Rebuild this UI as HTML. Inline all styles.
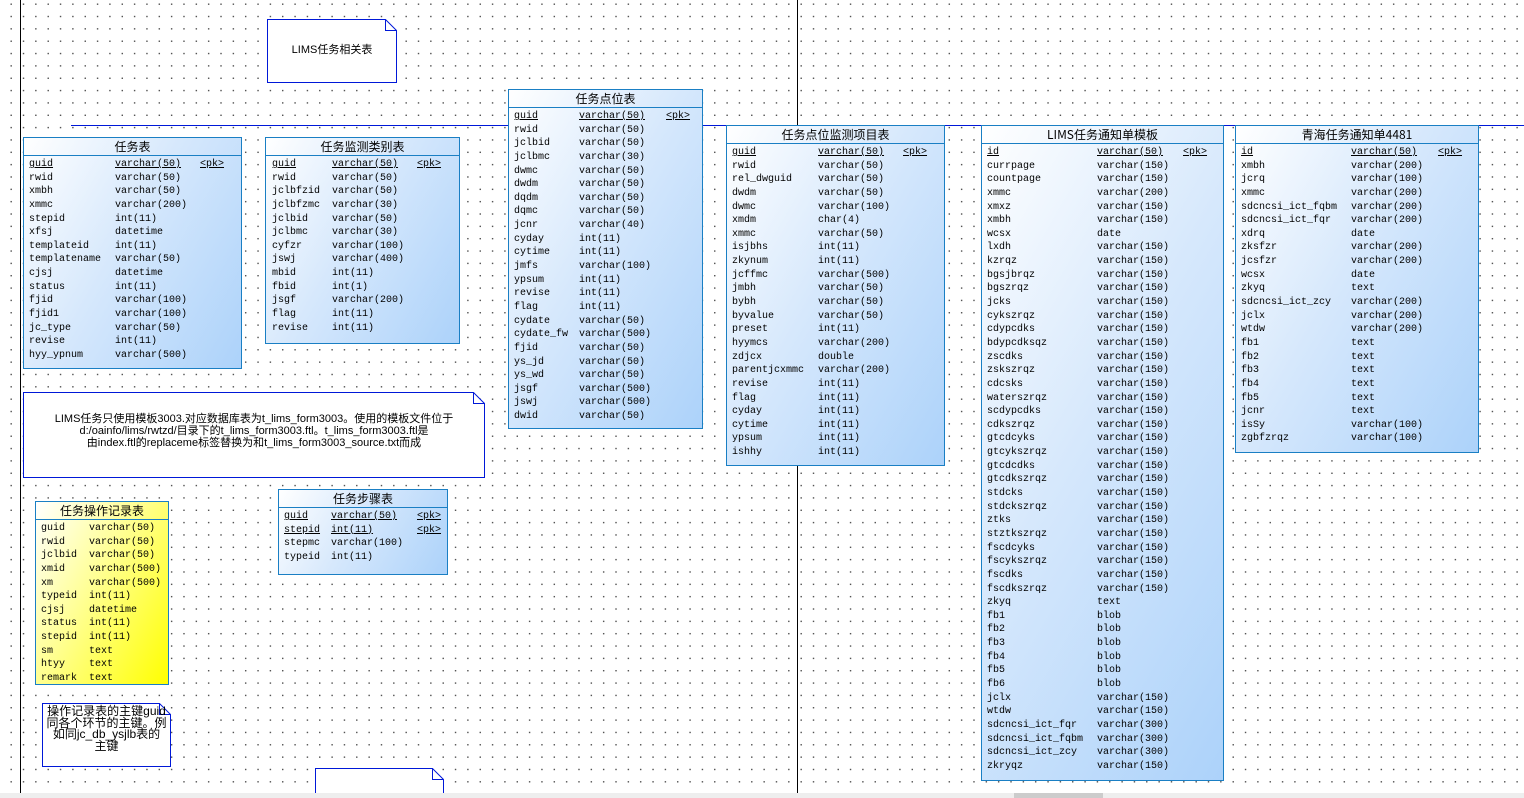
<!DOCTYPE html>
<html><head><meta charset="utf-8"><style>
*{margin:0;padding:0;box-sizing:border-box}
html,body{overflow:hidden}
body{width:1524px;height:798px;position:relative;background:#fff;
background-image:radial-gradient(circle,#444 0.6px,transparent 0.9px);background-size:12.35px 12.35px;background-position:5px -2px;
font-family:"Liberation Mono","Noto Sans CJK SC",monospace;font-size:10px;color:#000}
.vl{position:absolute;top:0;width:1px;height:793px;background:#000}
.hl{position:absolute;left:71px;top:125px;width:1453px;height:1px;background:#0018d8}
.t{position:absolute;border:1px solid #1a7fc4;background:linear-gradient(120deg,#fff 0%,#d6e8fc 45%,#acd2fa 100%)}
.t.y{background:linear-gradient(120deg,#fff 0%,#ffff90 45%,#ffff00 100%)}
.h{height:18px;border-bottom:1px solid #1a7fc4;text-align:center;font-family:"Noto Sans CJK SC","Liberation Sans",sans-serif;font-size:12px;line-height:17px}
.b{padding-top:2px}
.r{height:13.65px;line-height:13.65px;white-space:nowrap}
.r span{display:inline-block}
.u{text-decoration:underline}
.n{position:absolute;font-family:"Liberation Sans","Noto Sans CJK SC",sans-serif;font-size:11px;text-align:center}
.n svg{position:absolute;left:0;top:0;overflow:visible}
.n .tx{position:relative}
.sb{position:absolute;left:0;top:793px;width:1524px;height:10px;background:#eee;z-index:10}
.th{position:absolute;left:1014px;top:793px;width:89px;height:10px;background:#ccc;z-index:11}
</style></head><body>
<div class="vl" style="left:20px"></div>
<div class="vl" style="left:797px"></div>
<div class="hl"></div>

<div class="n" style="left:267px;top:19px;width:130px;height:64px">
<svg width="130" height="64"><polygon points="0.5,0.5 118.5,0.5 129.5,11.5 129.5,63.5 0.5,63.5" fill="#fff" stroke="#0018d8"/><polyline points="118.5,0.5 118.5,11.5 129.5,11.5" fill="none" stroke="#0018d8"/></svg>
<div class="tx" style="line-height:62px">LIMS任务相关表</div></div>

<div class="t" style="left:23px;top:137px;width:219px;height:232px"><div class="h">任务表</div><div class="b" style="padding-left:5px">
<div class="r"><span class="u" style="width:86px">guid</span><span class="u" style="width:85px">varchar(50)</span><span class="u">&lt;pk&gt;</span></div>
<div class="r"><span style="width:86px">rwid</span><span>varchar(50)</span></div>
<div class="r"><span style="width:86px">xmbh</span><span>varchar(50)</span></div>
<div class="r"><span style="width:86px">xmmc</span><span>varchar(200)</span></div>
<div class="r"><span style="width:86px">stepid</span><span>int(11)</span></div>
<div class="r"><span style="width:86px">xfsj</span><span>datetime</span></div>
<div class="r"><span style="width:86px">templateid</span><span>int(11)</span></div>
<div class="r"><span style="width:86px">templatename</span><span>varchar(50)</span></div>
<div class="r"><span style="width:86px">cjsj</span><span>datetime</span></div>
<div class="r"><span style="width:86px">status</span><span>int(11)</span></div>
<div class="r"><span style="width:86px">fjid</span><span>varchar(100)</span></div>
<div class="r"><span style="width:86px">fjid1</span><span>varchar(100)</span></div>
<div class="r"><span style="width:86px">jc_type</span><span>varchar(50)</span></div>
<div class="r"><span style="width:86px">revise</span><span>int(11)</span></div>
<div class="r"><span style="width:86px">hyy_ypnum</span><span>varchar(500)</span></div>
</div></div>

<div class="t" style="left:265px;top:137px;width:195px;height:207px"><div class="h">任务监测类别表</div><div class="b" style="padding-left:6px">
<div class="r"><span class="u" style="width:60px">guid</span><span class="u" style="width:85px">varchar(50)</span><span class="u">&lt;pk&gt;</span></div>
<div class="r"><span style="width:60px">rwid</span><span>varchar(50)</span></div>
<div class="r"><span style="width:60px">jclbfzid</span><span>varchar(50)</span></div>
<div class="r"><span style="width:60px">jclbfzmc</span><span>varchar(30)</span></div>
<div class="r"><span style="width:60px">jclbid</span><span>varchar(50)</span></div>
<div class="r"><span style="width:60px">jclbmc</span><span>varchar(30)</span></div>
<div class="r"><span style="width:60px">cyfzr</span><span>varchar(100)</span></div>
<div class="r"><span style="width:60px">jswj</span><span>varchar(400)</span></div>
<div class="r"><span style="width:60px">mbid</span><span>int(11)</span></div>
<div class="r"><span style="width:60px">fbid</span><span>int(1)</span></div>
<div class="r"><span style="width:60px">jsgf</span><span>varchar(200)</span></div>
<div class="r"><span style="width:60px">flag</span><span>int(11)</span></div>
<div class="r"><span style="width:60px">revise</span><span>int(11)</span></div>
</div></div>

<div class="t" style="left:508px;top:89px;width:195px;height:340px"><div class="h">任务点位表</div><div class="b" style="padding-left:5px">
<div class="r"><span class="u" style="width:65px">guid</span><span class="u" style="width:87px">varchar(50)</span><span class="u">&lt;pk&gt;</span></div>
<div class="r"><span style="width:65px">rwid</span><span>varchar(50)</span></div>
<div class="r"><span style="width:65px">jclbid</span><span>varchar(50)</span></div>
<div class="r"><span style="width:65px">jclbmc</span><span>varchar(30)</span></div>
<div class="r"><span style="width:65px">dwmc</span><span>varchar(50)</span></div>
<div class="r"><span style="width:65px">dwdm</span><span>varchar(50)</span></div>
<div class="r"><span style="width:65px">dqdm</span><span>varchar(50)</span></div>
<div class="r"><span style="width:65px">dqmc</span><span>varchar(50)</span></div>
<div class="r"><span style="width:65px">jcnr</span><span>varchar(40)</span></div>
<div class="r"><span style="width:65px">cyday</span><span>int(11)</span></div>
<div class="r"><span style="width:65px">cytime</span><span>int(11)</span></div>
<div class="r"><span style="width:65px">jmfs</span><span>varchar(100)</span></div>
<div class="r"><span style="width:65px">ypsum</span><span>int(11)</span></div>
<div class="r"><span style="width:65px">revise</span><span>int(11)</span></div>
<div class="r"><span style="width:65px">flag</span><span>int(11)</span></div>
<div class="r"><span style="width:65px">cydate</span><span>varchar(50)</span></div>
<div class="r"><span style="width:65px">cydate_fw</span><span>varchar(500)</span></div>
<div class="r"><span style="width:65px">fjid</span><span>varchar(50)</span></div>
<div class="r"><span style="width:65px">ys_jd</span><span>varchar(50)</span></div>
<div class="r"><span style="width:65px">ys_wd</span><span>varchar(50)</span></div>
<div class="r"><span style="width:65px">jsgf</span><span>varchar(500)</span></div>
<div class="r"><span style="width:65px">jswj</span><span>varchar(500)</span></div>
<div class="r"><span style="width:65px">dwid</span><span>varchar(50)</span></div>
</div></div>

<div class="t" style="left:726px;top:125px;width:219px;height:341px"><div class="h">任务点位监测项目表</div><div class="b" style="padding-left:5px">
<div class="r"><span class="u" style="width:86px">guid</span><span class="u" style="width:85px">varchar(50)</span><span class="u">&lt;pk&gt;</span></div>
<div class="r"><span style="width:86px">rwid</span><span>varchar(50)</span></div>
<div class="r"><span style="width:86px">rel_dwguid</span><span>varchar(50)</span></div>
<div class="r"><span style="width:86px">dwdm</span><span>varchar(50)</span></div>
<div class="r"><span style="width:86px">dwmc</span><span>varchar(100)</span></div>
<div class="r"><span style="width:86px">xmdm</span><span>char(4)</span></div>
<div class="r"><span style="width:86px">xmmc</span><span>varchar(50)</span></div>
<div class="r"><span style="width:86px">isjbhs</span><span>int(11)</span></div>
<div class="r"><span style="width:86px">zkynum</span><span>int(11)</span></div>
<div class="r"><span style="width:86px">jcffmc</span><span>varchar(500)</span></div>
<div class="r"><span style="width:86px">jmbh</span><span>varchar(50)</span></div>
<div class="r"><span style="width:86px">bybh</span><span>varchar(50)</span></div>
<div class="r"><span style="width:86px">byvalue</span><span>varchar(50)</span></div>
<div class="r"><span style="width:86px">preset</span><span>int(11)</span></div>
<div class="r"><span style="width:86px">hyymcs</span><span>varchar(200)</span></div>
<div class="r"><span style="width:86px">zdjcx</span><span>double</span></div>
<div class="r"><span style="width:86px">parentjcxmmc</span><span>varchar(200)</span></div>
<div class="r"><span style="width:86px">revise</span><span>int(11)</span></div>
<div class="r"><span style="width:86px">flag</span><span>int(11)</span></div>
<div class="r"><span style="width:86px">cyday</span><span>int(11)</span></div>
<div class="r"><span style="width:86px">cytime</span><span>int(11)</span></div>
<div class="r"><span style="width:86px">ypsum</span><span>int(11)</span></div>
<div class="r"><span style="width:86px">ishhy</span><span>int(11)</span></div>
</div></div>

<div class="t" style="left:981px;top:125px;width:243px;height:656px"><div class="h">LIMS任务通知单模板</div><div class="b" style="padding-left:5px">
<div class="r"><span class="u" style="width:110px">id</span><span class="u" style="width:86px">varchar(50)</span><span class="u">&lt;pk&gt;</span></div>
<div class="r"><span style="width:110px">currpage</span><span>varchar(150)</span></div>
<div class="r"><span style="width:110px">countpage</span><span>varchar(150)</span></div>
<div class="r"><span style="width:110px">xmmc</span><span>varchar(200)</span></div>
<div class="r"><span style="width:110px">xmxz</span><span>varchar(150)</span></div>
<div class="r"><span style="width:110px">xmbh</span><span>varchar(150)</span></div>
<div class="r"><span style="width:110px">wcsx</span><span>date</span></div>
<div class="r"><span style="width:110px">lxdh</span><span>varchar(150)</span></div>
<div class="r"><span style="width:110px">kzrqz</span><span>varchar(150)</span></div>
<div class="r"><span style="width:110px">bgsjbrqz</span><span>varchar(150)</span></div>
<div class="r"><span style="width:110px">bgszrqz</span><span>varchar(150)</span></div>
<div class="r"><span style="width:110px">jcks</span><span>varchar(150)</span></div>
<div class="r"><span style="width:110px">cykszrqz</span><span>varchar(150)</span></div>
<div class="r"><span style="width:110px">cdypcdks</span><span>varchar(150)</span></div>
<div class="r"><span style="width:110px">bdypcdksqz</span><span>varchar(150)</span></div>
<div class="r"><span style="width:110px">zscdks</span><span>varchar(150)</span></div>
<div class="r"><span style="width:110px">zskszrqz</span><span>varchar(150)</span></div>
<div class="r"><span style="width:110px">cdcsks</span><span>varchar(150)</span></div>
<div class="r"><span style="width:110px">waterszrqz</span><span>varchar(150)</span></div>
<div class="r"><span style="width:110px">scdypcdks</span><span>varchar(150)</span></div>
<div class="r"><span style="width:110px">cdkszrqz</span><span>varchar(150)</span></div>
<div class="r"><span style="width:110px">gtcdcyks</span><span>varchar(150)</span></div>
<div class="r"><span style="width:110px">gtcykszrqz</span><span>varchar(150)</span></div>
<div class="r"><span style="width:110px">gtcdcdks</span><span>varchar(150)</span></div>
<div class="r"><span style="width:110px">gtcdkszrqz</span><span>varchar(150)</span></div>
<div class="r"><span style="width:110px">stdcks</span><span>varchar(150)</span></div>
<div class="r"><span style="width:110px">stdckszrqz</span><span>varchar(150)</span></div>
<div class="r"><span style="width:110px">ztks</span><span>varchar(150)</span></div>
<div class="r"><span style="width:110px">stztkszrqz</span><span>varchar(150)</span></div>
<div class="r"><span style="width:110px">fscdcyks</span><span>varchar(150)</span></div>
<div class="r"><span style="width:110px">fscykszrqz</span><span>varchar(150)</span></div>
<div class="r"><span style="width:110px">fscdks</span><span>varchar(150)</span></div>
<div class="r"><span style="width:110px">fscdkszrqz</span><span>varchar(150)</span></div>
<div class="r"><span style="width:110px">zkyq</span><span>text</span></div>
<div class="r"><span style="width:110px">fb1</span><span>blob</span></div>
<div class="r"><span style="width:110px">fb2</span><span>blob</span></div>
<div class="r"><span style="width:110px">fb3</span><span>blob</span></div>
<div class="r"><span style="width:110px">fb4</span><span>blob</span></div>
<div class="r"><span style="width:110px">fb5</span><span>blob</span></div>
<div class="r"><span style="width:110px">fb6</span><span>blob</span></div>
<div class="r"><span style="width:110px">jclx</span><span>varchar(150)</span></div>
<div class="r"><span style="width:110px">wtdw</span><span>varchar(150)</span></div>
<div class="r"><span style="width:110px">sdcncsi_ict_fqr</span><span>varchar(300)</span></div>
<div class="r"><span style="width:110px">sdcncsi_ict_fqbm</span><span>varchar(300)</span></div>
<div class="r"><span style="width:110px">sdcncsi_ict_zcy</span><span>varchar(300)</span></div>
<div class="r"><span style="width:110px">zkryqz</span><span>varchar(150)</span></div>
</div></div>

<div class="t" style="left:1235px;top:125px;width:244px;height:328px"><div class="h">青海任务通知单4481</div><div class="b" style="padding-left:5px">
<div class="r"><span class="u" style="width:110px">id</span><span class="u" style="width:87px">varchar(50)</span><span class="u">&lt;pk&gt;</span></div>
<div class="r"><span style="width:110px">xmbh</span><span>varchar(200)</span></div>
<div class="r"><span style="width:110px">jcrq</span><span>varchar(100)</span></div>
<div class="r"><span style="width:110px">xmmc</span><span>varchar(200)</span></div>
<div class="r"><span style="width:110px">sdcncsi_ict_fqbm</span><span>varchar(200)</span></div>
<div class="r"><span style="width:110px">sdcncsi_ict_fqr</span><span>varchar(200)</span></div>
<div class="r"><span style="width:110px">xdrq</span><span>date</span></div>
<div class="r"><span style="width:110px">zksfzr</span><span>varchar(200)</span></div>
<div class="r"><span style="width:110px">jcsfzr</span><span>varchar(200)</span></div>
<div class="r"><span style="width:110px">wcsx</span><span>date</span></div>
<div class="r"><span style="width:110px">zkyq</span><span>text</span></div>
<div class="r"><span style="width:110px">sdcncsi_ict_zcy</span><span>varchar(200)</span></div>
<div class="r"><span style="width:110px">jclx</span><span>varchar(200)</span></div>
<div class="r"><span style="width:110px">wtdw</span><span>varchar(200)</span></div>
<div class="r"><span style="width:110px">fb1</span><span>text</span></div>
<div class="r"><span style="width:110px">fb2</span><span>text</span></div>
<div class="r"><span style="width:110px">fb3</span><span>text</span></div>
<div class="r"><span style="width:110px">fb4</span><span>text</span></div>
<div class="r"><span style="width:110px">fb5</span><span>text</span></div>
<div class="r"><span style="width:110px">jcnr</span><span>text</span></div>
<div class="r"><span style="width:110px">isSy</span><span>varchar(100)</span></div>
<div class="r"><span style="width:110px">zgbfzrqz</span><span>varchar(100)</span></div>
</div></div>

<div class="n" style="left:23px;top:392px;width:462px;height:86px">
<svg width="462" height="86"><polygon points="0.5,0.5 450.5,0.5 461.5,11.5 461.5,85.5 0.5,85.5" fill="#fff" stroke="#0018d8"/><polyline points="450.5,0.5 450.5,11.5 461.5,11.5" fill="none" stroke="#0018d8"/></svg>
<div class="tx" style="padding-top:21px;line-height:12px">LIMS任务只使用模板3003.对应数据库表为t_lims_form3003。使用的模板文件位于<br>d:/oainfo/lims/rwtzd/目录下的t_lims_form3003.ftl。t_lims_form3003.ftl是<br>由index.ftl的replaceme标签替换为和t_lims_form3003_source.txt而成</div></div>

<div class="t y" style="left:35px;top:501px;width:134px;height:184px"><div class="h">任务操作记录表</div><div class="b" style="padding-left:5px">
<div class="r"><span style="width:48px">guid</span><span>varchar(50)</span></div>
<div class="r"><span style="width:48px">rwid</span><span>varchar(50)</span></div>
<div class="r"><span style="width:48px">jclbid</span><span>varchar(50)</span></div>
<div class="r"><span style="width:48px">xmid</span><span>varchar(500)</span></div>
<div class="r"><span style="width:48px">xm</span><span>varchar(500)</span></div>
<div class="r"><span style="width:48px">typeid</span><span>int(11)</span></div>
<div class="r"><span style="width:48px">cjsj</span><span>datetime</span></div>
<div class="r"><span style="width:48px">status</span><span>int(11)</span></div>
<div class="r"><span style="width:48px">stepid</span><span>int(11)</span></div>
<div class="r"><span style="width:48px">sm</span><span>text</span></div>
<div class="r"><span style="width:48px">htyy</span><span>text</span></div>
<div class="r"><span style="width:48px">remark</span><span>text</span></div>
</div></div>

<div class="t" style="left:278px;top:489px;width:170px;height:86px"><div class="h">任务步骤表</div><div class="b" style="padding-left:5px">
<div class="r"><span class="u" style="width:47px">guid</span><span class="u" style="width:86px">varchar(50)</span><span class="u">&lt;pk&gt;</span></div>
<div class="r"><span class="u" style="width:47px">stepid</span><span class="u" style="width:86px">int(11)</span><span class="u">&lt;pk&gt;</span></div>
<div class="r"><span style="width:47px">stepmc</span><span>varchar(100)</span></div>
<div class="r"><span style="width:47px">typeid</span><span>int(11)</span></div>
</div></div>

<div class="n" style="left:42px;top:703px;width:129px;height:64px">
<svg width="129" height="64"><polygon points="0.5,0.5 117.5,0.5 128.5,11.5 128.5,63.5 0.5,63.5" fill="#fff" stroke="#0018d8"/><polyline points="117.5,0.5 117.5,11.5 128.5,11.5" fill="none" stroke="#0018d8"/></svg>
<div class="tx" style="padding-top:3px;line-height:11.5px;font-size:12px">操作记录表的主键guid<br>同各个环节的主键。例<br>如同jc_db_ysjlb表的<br>主键</div></div>

<div class="n" style="left:315px;top:768px;width:129px;height:40px">
<svg width="129" height="40"><polygon points="0.5,0.5 117.5,0.5 128.5,11.5 128.5,39.5 0.5,39.5" fill="#fff" stroke="#0018d8"/><polyline points="117.5,0.5 117.5,11.5 128.5,11.5" fill="none" stroke="#0018d8"/></svg></div>

<div class="sb"></div><div class="th"></div>
</body></html>
